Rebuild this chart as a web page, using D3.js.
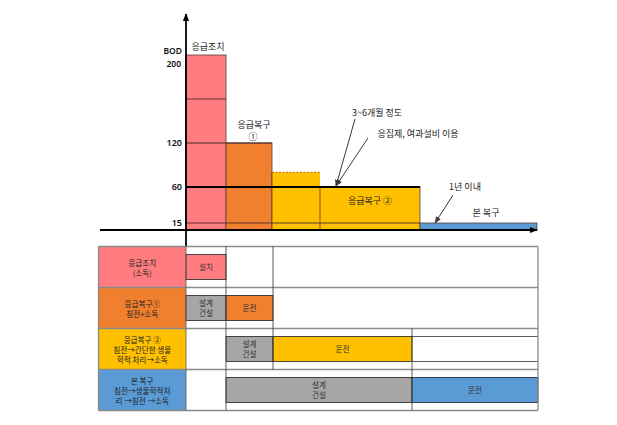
<!DOCTYPE html>
<html>
<head>
<meta charset="utf-8">
<script src="https://cdn.jsdelivr.net/npm/d3@7"></script>
<style>
  body { margin: 0; background: #fff; }
  svg { display: block; font-family: "Noto Sans CJK KR", "Noto Sans", sans-serif; }
</style>
</head>
<body>
<svg id="chart"></svg>
<script>
const width = 617;
const height = 425;

// chart data: BOD level of each treatment stage
const stages = ["응급조치", "응급복구 ①", "응급복구 ② (초기)", "응급복구 ②", "본 복구"];
const bodValues = [200, 120, 80, 60, 15];
const stageSlots = [0, 1, 2, 3, 4];
const stageColors = ["#ff7c80", "#f07f2e", "#ffc000", "#ffc000", "#5b9bd5"];
const bodTicks = [15, 60, 120];
const gridLevels = [160, 120, 60, 15];
const gridEnds = [1, 2, 4, 4];

// schedule table data
const rowLabels = [
  ["응급조치", "(소독)"],
  ["응급복구①", "침전+소독"],
  ["응급복구 ②", "침전→간단한 생물", "학적 처리→소독"],
  ["본 복구", "침전→생물학적처", "리 →침전 →소독"]
];
const rowColors = ["#ff7c80", "#f07f2e", "#ffc000", "#5b9bd5"];
const taskRows = [0, 1, 1, 2, 2, 3, 3];
const taskFrom = [0, 0, 1, 1, 2, 1, 3];
const taskTo = [1, 1, 2, 2, 3, 3, 4];
const taskText = [["설치"], ["설계", "건설"], ["운전"], ["설계", "건설"], ["운전"], ["설계", "건설"], ["운전"]];
const taskColors = ["#ff7c80", "#a6a6a6", "#f07f2e", "#a6a6a6", "#ffc000", "#a6a6a6", "#5b9bd5"];

const svg = d3.select("#chart")
  .attr("width", width)
  .attr("height", height);

svg.append("rect").attr("width", width).attr("height", height).attr("fill", "#fff");

const defs = svg.append("defs");
function marker(id, color, size) {
  defs.append("marker")
    .attr("id", id)
    .attr("viewBox", "0 0 10 10")
    .attr("refX", 9).attr("refY", 5)
    .attr("markerWidth", size).attr("markerHeight", size)
    .attr("markerUnits", "userSpaceOnUse")
    .attr("orient", "auto")
    .append("path")
    .attr("d", "M0,1 L10,5 L0,9 Z")
    .attr("fill", color);
}
marker("axisArrow", "#000", 8);
marker("noteArrow", "#3a3a3a", 7);

/* ---------------------------
Scales (schematic, piecewise)
--------------------------- */

const x = d3.scaleLinear()
  .domain([0, 1, 2, 3, 4, 5])
  .range([186, 226, 272, 320, 420, 537]);

const y = d3.scaleLinear()
  .domain([0, 15, 60, 120, 200])
  .range([230, 223, 187, 143, 55]);

/* ---------------------------
Bars
--------------------------- */

svg.selectAll("rect.bar")
  .data(stageSlots)
  .enter()
  .append("rect")
  .attr("class", "bar")
  .attr("x", i => x(i))
  .attr("y", i => y(bodValues[i]))
  .attr("width", i => x(i + 1) - x(i))
  .attr("height", i => y(0) - y(bodValues[i]))
  .attr("fill", i => stageColors[i])
  .attr("stroke", i => i === 2 ? "none" : "#5a3a3a")
  .attr("stroke-width", 0.8);

// dashed top of the intermediate stage
svg.append("line")
  .attr("x1", x(2)).attr("x2", x(3))
  .attr("y1", y(bodValues[2])).attr("y2", y(bodValues[2]))
  .attr("stroke", "#e07a10")
  .attr("stroke-width", 1.2)
  .attr("stroke-dasharray", "2,1.5");
svg.append("line")
  .attr("x1", x(2)).attr("x2", x(2))
  .attr("y1", y(bodValues[2])).attr("y2", y(0))
  .attr("stroke", "#5a3a3a").attr("stroke-width", 0.8);

// level lines across the bars
svg.selectAll("line.level")
  .data(gridLevels)
  .enter()
  .append("line")
  .attr("class", "level")
  .attr("x1", x(0))
  .attr("x2", (d, i) => x(gridEnds[i]))
  .attr("y1", d => y(d))
  .attr("y2", d => y(d))
  .attr("stroke", d => d === 60 ? "#000" : "#4a2a2a")
  .attr("stroke-width", d => d === 60 ? 1.8 : (d === 120 ? 1.2 : 0.9));

/* ---------------------------
Axes
--------------------------- */

svg.append("line")
  .attr("x1", 100).attr("x2", x(5))
  .attr("y1", y(0)).attr("y2", y(0))
  .attr("stroke", "#000").attr("stroke-width", 1.8)
  .attr("marker-end", "url(#axisArrow)");

svg.append("line")
  .attr("x1", x(0)).attr("x2", x(0))
  .attr("y1", 246.5).attr("y2", 14)
  .attr("stroke", "#000").attr("stroke-width", 1.8)
  .attr("marker-end", "url(#axisArrow)");

const yAxis = svg.append("g")
  .attr("transform", `translate(${x(0)},0)`)
  .call(d3.axisLeft(y).tickValues(bodTicks).tickSize(0).tickPadding(4));
yAxis.select(".domain").remove();
yAxis.selectAll("text")
  .attr("font-family", "'Noto Sans', sans-serif")
  .attr("font-size", 9)
  .attr("font-weight", 600)
  .attr("fill", "#111");

svg.append("text")
  .attr("x", 182).attr("y", 54)
  .attr("text-anchor", "end")
  .attr("font-family", "'Noto Sans', sans-serif")
  .attr("font-size", 8.5).attr("font-weight", 600).attr("fill", "#111")
  .text("BOD");
svg.append("text")
  .attr("x", 181).attr("y", 67)
  .attr("text-anchor", "end")
  .attr("font-family", "'Noto Sans', sans-serif")
  .attr("font-size", 8.5).attr("font-weight", 600).attr("fill", "#111")
  .text(bodValues[0]);

/* ---------------------------
Annotations
--------------------------- */

const notes = [
  { text: "응급조치", x: (x(0) + x(1)) / 2 + 2, y: 50 },
  { text: "응급복구", x: (x(1) + x(2)) / 2 + 5, y: 128 },
  { text: "①", x: (x(1) + x(2)) / 2 + 4, y: 140 },
  { text: "3~6개월 정도", x: 377, y: 116 },
  { text: "응집제, 여과설비 이용", x: 418, y: 137 },
  { text: "응급복구 ②", x: (x(3) + x(4)) / 2, y: 204 },
  { text: "1년 이내", x: 465, y: 190 },
  { text: "본 복구", x: 486, y: 216 }
];

svg.selectAll("text.note")
  .data(notes)
  .enter()
  .append("text")
  .attr("class", "note")
  .attr("x", d => d.x)
  .attr("y", d => d.y)
  .attr("text-anchor", "middle")
  .attr("font-size", 9)
  .attr("fill", "#222")
  .text(d => d.text);

const pointers = [
  { x1: 355, y1: 119, x2: x(3) + 16, y2: y(60) - 1 },
  { x1: 368, y1: 138, x2: x(3) + 16, y2: y(60) - 1 },
  { x1: 453, y1: 195, x2: x(4) + 15, y2: y(15) }
];

svg.selectAll("line.pointer")
  .data(pointers)
  .enter()
  .append("line")
  .attr("class", "pointer")
  .attr("x1", d => d.x1).attr("y1", d => d.y1)
  .attr("x2", d => d.x2).attr("y2", d => d.y2)
  .attr("stroke", "#3a3a3a")
  .attr("stroke-width", 1)
  .attr("marker-end", "url(#noteArrow)");

/* ---------------------------
Schedule table
--------------------------- */

const tx = d3.scaleLinear()
  .domain([0, 1, 2, 3, 4])
  .range([186, 226, 273, 412, 538]);

const ty = d3.scaleBand()
  .domain(d3.range(rowLabels.length))
  .range([246.5, 410.5]);

const inset = 8;
const table = svg.append("g");

// label column
table.selectAll("rect.rowLabel")
  .data(rowLabels)
  .enter()
  .append("rect")
  .attr("x", 98.5)
  .attr("y", (d, i) => ty(i))
  .attr("width", tx(0) - 98.5)
  .attr("height", ty.bandwidth())
  .attr("fill", (d, i) => rowColors[i]);

rowLabels.forEach((lines, i) => {
  const mid = ty(i) + ty.bandwidth() / 2 + 1;
  const step = 10;
  const t = table.append("text")
    .attr("text-anchor", "middle")
    .attr("font-size", 7.6)
    .attr("fill", "#222");
  lines.forEach((s, k) => {
    t.append("tspan")
      .attr("x", (98.5 + tx(0)) / 2)
      .attr("y", mid + (k - (lines.length - 1) / 2) * step + 3)
      .text(s);
  });
});

// inner lines along the task bands
const bandLines = [
  { row: 0, from: 0, to: 1 },
  { row: 1, from: 0, to: 2 },
  { row: 2, from: 1, to: 4 },
  { row: 3, from: 1, to: 4 }
];
bandLines.forEach(b => {
  [ty(b.row) + inset, ty(b.row) + ty.bandwidth() - inset].forEach(yy => {
    table.append("line")
      .attr("x1", tx(b.from)).attr("x2", tx(b.to))
      .attr("y1", yy).attr("y2", yy)
      .attr("stroke", "#333").attr("stroke-width", 0.8);
  });
});

// task cells
table.selectAll("rect.task")
  .data(taskRows)
  .enter()
  .append("rect")
  .attr("class", "task")
  .attr("x", (r, i) => tx(taskFrom[i]))
  .attr("y", r => ty(r) + inset)
  .attr("width", (r, i) => tx(taskTo[i]) - tx(taskFrom[i]))
  .attr("height", ty.bandwidth() - inset * 2)
  .attr("fill", (r, i) => taskColors[i])
  .attr("stroke", "#333")
  .attr("stroke-width", 0.8);

taskRows.forEach((r, i) => {
  const lines = taskText[i];
  const cx = (tx(taskFrom[i]) + tx(taskTo[i])) / 2;
  const mid = ty(r) + ty.bandwidth() / 2;
  const t = table.append("text")
    .attr("text-anchor", "middle")
    .attr("font-size", 7.6)
    .attr("fill", "#333");
  lines.forEach((s, k) => {
    t.append("tspan")
      .attr("x", cx)
      .attr("y", mid + (k - (lines.length - 1) / 2) * 10 + 3)
      .text(s);
  });
});

// row borders
table.selectAll("line.rowBorder")
  .data(d3.range(rowLabels.length + 1))
  .enter()
  .append("line")
  .attr("x1", 98.5).attr("x2", tx(4))
  .attr("y1", i => i < rowLabels.length ? ty(i) : ty(i - 1) + ty.bandwidth())
  .attr("y2", i => i < rowLabels.length ? ty(i) : ty(i - 1) + ty.bandwidth())
  .attr("stroke", "#8a8a8a").attr("stroke-width", 1.3);

// column dividers: [x slot, first row, last row]
const colLines = [
  [1, 0, 3],
  [2, 0, 2],
  [3, 2, 3]
];
colLines.forEach(c => {
  table.append("line")
    .attr("x1", tx(c[0])).attr("x2", tx(c[0]))
    .attr("y1", ty(c[1])).attr("y2", ty(c[2]) + ty.bandwidth())
    .attr("stroke", "#333").attr("stroke-width", 0.8);
});

[98.5, tx(4)].forEach(xx => {
  table.append("line")
    .attr("x1", xx).attr("x2", xx)
    .attr("y1", ty(0)).attr("y2", ty(3) + ty.bandwidth())
    .attr("stroke", "#8a8a8a").attr("stroke-width", 1.3);
});
table.append("line")
  .attr("x1", tx(0)).attr("x2", tx(0))
  .attr("y1", ty(0)).attr("y2", ty(3) + ty.bandwidth())
  .attr("stroke", "#555").attr("stroke-width", 0.8);
</script>
</body>
</html>
